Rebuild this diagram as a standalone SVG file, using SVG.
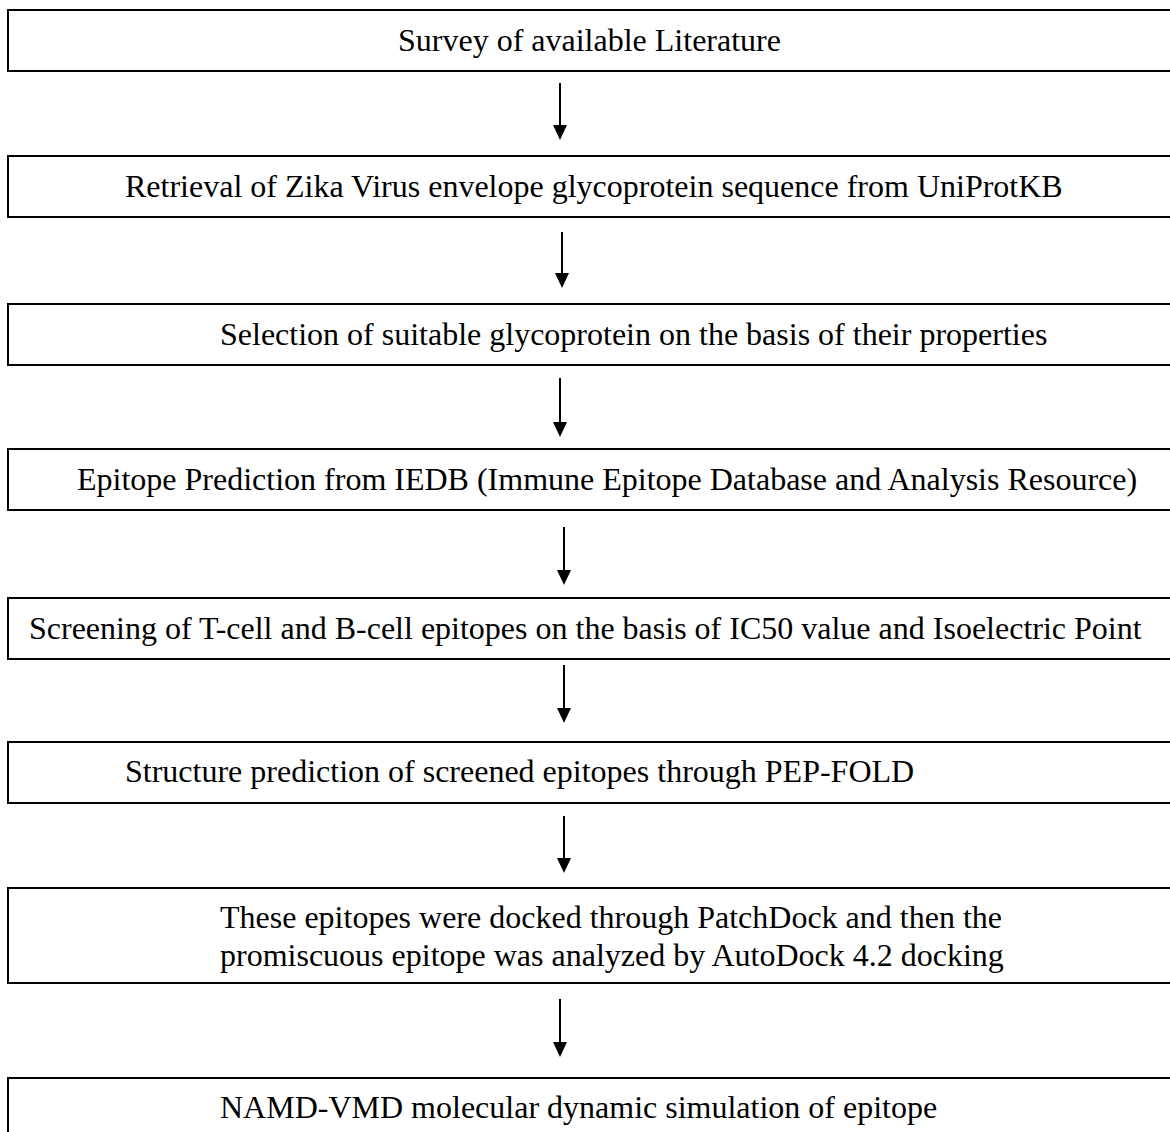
<svg xmlns="http://www.w3.org/2000/svg" width="1170" height="1132" viewBox="0 0 1170 1132">
  <style>
    .box { fill: #ffffff; stroke: #000000; stroke-width: 2; }
    .lbl { font-family: "Liberation Serif", "Times New Roman", serif; font-size: 32px; fill: #000000; }
    .conn { stroke: #000000; stroke-width: 2; fill: none; }
    .head { fill: #000000; stroke: none; }
  </style>
  <defs>
    <clipPath id="clip7"><rect x="8" y="888" width="1200" height="85"/></clipPath>
  </defs>
  <rect x="0" y="0" width="1170" height="1132" fill="#ffffff"/>

  <g id="node1">
    <rect class="box" x="8" y="10" width="1200" height="61"/>
    <text class="lbl" x="398" y="51">Survey of available Literature</text>
  </g>
  <g id="node2">
    <rect class="box" x="8" y="156" width="1200" height="61"/>
    <text class="lbl" x="125" y="197">Retrieval of Zika Virus envelope glycoprotein sequence from UniProtKB</text>
  </g>
  <g id="node3">
    <rect class="box" x="8" y="304" width="1200" height="61"/>
    <text class="lbl" x="220" y="345">Selection of suitable glycoprotein on the basis of their properties</text>
  </g>
  <g id="node4">
    <rect class="box" x="8" y="449" width="1200" height="61"/>
    <text class="lbl" x="77" y="490">Epitope Prediction from IEDB (Immune Epitope Database and Analysis Resource)</text>
  </g>
  <g id="node5">
    <rect class="box" x="8" y="598" width="1200" height="61"/>
    <text class="lbl" x="29" y="639">Screening of T-cell and B-cell epitopes on the basis of IC50 value and Isoelectric Point</text>
  </g>
  <g id="node6">
    <rect class="box" x="8" y="742" width="1200" height="61"/>
    <text class="lbl" x="125" y="782">Structure prediction of screened epitopes through PEP-FOLD</text>
  </g>
  <g id="node7">
    <rect class="box" x="8" y="888" width="1200" height="95"/>
    <g clip-path="url(#clip7)">
      <text class="lbl" x="220" y="928">These epitopes were docked through PatchDock and then the</text>
      <text class="lbl" x="220" y="966">promiscuous epitope was analyzed by AutoDock 4.2 docking</text>
    </g>
  </g>
  <g id="node8">
    <rect class="box" x="8" y="1078" width="1200" height="100"/>
    <text class="lbl" x="220" y="1118">NAMD-VMD molecular dynamic simulation of epitope</text>
  </g>

  <g id="connectors">
    <line class="conn" x1="560" y1="83" x2="560" y2="127"/>
    <polygon class="head" points="553,125 567,125 560,140"/>
    <line class="conn" x1="562" y1="232" x2="562" y2="275"/>
    <polygon class="head" points="555,273 569,273 562,288"/>
    <line class="conn" x1="560" y1="378" x2="560" y2="424"/>
    <polygon class="head" points="553,422 567,422 560,437"/>
    <line class="conn" x1="564" y1="527" x2="564" y2="572"/>
    <polygon class="head" points="557,570 571,570 564,585"/>
    <line class="conn" x1="564" y1="665" x2="564" y2="710"/>
    <polygon class="head" points="557,708 571,708 564,723"/>
    <line class="conn" x1="564" y1="816" x2="564" y2="860"/>
    <polygon class="head" points="557,858 571,858 564,873"/>
    <line class="conn" x1="560" y1="999" x2="560" y2="1044"/>
    <polygon class="head" points="553,1042 567,1042 560,1057"/>
  </g>
</svg>
